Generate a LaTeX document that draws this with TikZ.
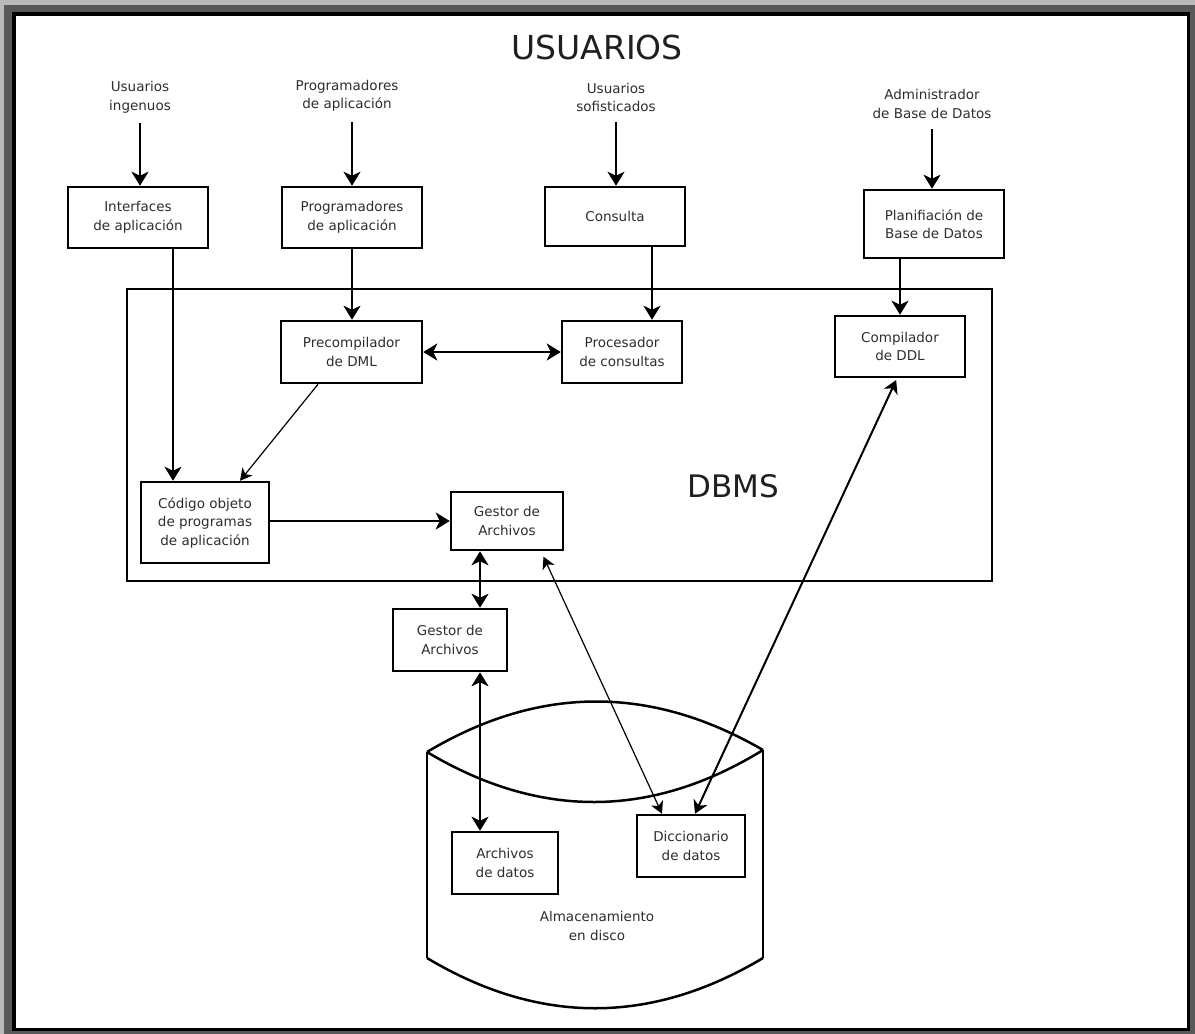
\documentclass[tikz,border=0pt]{standalone}
\usepackage{fontspec}
\setmainfont{DejaVu Sans}
\usetikzlibrary{arrows.meta}
\newcommand\boxtxt{\fontsize{13.5}{18.5}\selectfont}
\begin{document}
\begin{tikzpicture}[x=1pt,y=-1pt,
  box/.style={draw, line width=2.5pt, fill=white, align=center, text=black!82, font=\boxtxt, inner sep=0pt},
  lbl/.style={align=center, text=black!82, font=\boxtxt, inner sep=0pt},
  big/.style={text=black!88, inner sep=0pt},
  arr/.style={line width=2.5pt, -{Stealth[length=14pt,width=17pt,inset=4pt]}},
  darr/.style={line width=2.5pt, {Stealth[length=14pt,width=17pt,inset=4pt]}-{Stealth[length=14pt,width=17pt,inset=4pt]}},
  tarr/.style={line width=1.2pt, -{Stealth[length=12pt,width=13pt,inset=3.5pt]}},
  tdarr/.style={line width=1.2pt, {Stealth[length=12pt,width=13pt,inset=3.5pt]}-{Stealth[length=12pt,width=13pt,inset=3.5pt]}},
  mdarr/.style={line width=2pt, {Stealth[length=13pt,width=15pt,inset=4pt]}-{Stealth[length=13pt,width=15pt,inset=4pt]}},
  outline/.style={line width=2.5pt}
]
\useasboundingbox (0,0) rectangle (1195,1034);
% frame
\fill[gray!55] (0,0) rectangle (1195,1034);
\fill[gray!70!black] (4,5) rectangle (1195,1034);
\draw[line width=3.5pt, fill=white] (14,14) rectangle (1188.5,1029.5);

% titles
\node[big, font=\fontsize{33}{36}\selectfont] (usr) at (597,47) {USUARIOS};

% DBMS enclosure
\draw[outline] (127,289) rectangle (992,581);
\node[big, font=\fontsize{31}{34}\selectfont] (dbms) at (733,486) {DBMS};

% disk storage cylinder
\draw[outline] (427,752) -- (427,958);
\draw[outline] (763,750) -- (763,958);
\draw[outline] (427,752) .. controls (539,685) and (651,685) .. (763,750);
\draw[outline] (427,752) .. controls (539,819) and (651,819) .. (763,750);
\draw[outline] (427,958) .. controls (539,1025) and (651,1025) .. (763,958);
\node[lbl] (alm) at (597,926) {Almacenamiento\\en disco};

% user labels
\node[lbl] (l1) at (140,97.5) {Usuarios\\ingenuos};
\node[lbl] (l2) at (347,96) {Programadores\\de aplicación};
\node[lbl] (l3) at (616,97.5) {Usuarios\\sofisticados};
\node[lbl] (l4) at (932,104) {Administrador\\de Base de Datos};

% boxes
\node[box, minimum width=140pt, minimum height=61pt] (iface) at (138,217.5) {Interfaces\\de aplicación};
\node[box, minimum width=140pt, minimum height=61pt] (prog) at (352,217.5) {Programadores\\de aplicación};
\node[box, minimum width=140pt, minimum height=59pt] (cons) at (615,216.5) {Consulta};
\node[box, minimum width=140pt, minimum height=68pt] (plan) at (934,224) {Planifiación de\\Base de Datos};
\node[box, minimum width=141pt, minimum height=62pt] (prec) at (351.5,352) {Precompilador\\de DML};
\node[box, minimum width=120pt, minimum height=62pt] (proc) at (622,352) {Procesador\\de consultas};
\node[box, minimum width=130pt, minimum height=61pt] (comp) at (900,346.5) {Compilador\\de DDL};
\node[box, minimum width=128pt, minimum height=81pt] (cod) at (205,522.5) {Código objeto\\de programas\\de aplicación};
\node[box, minimum width=112pt, minimum height=58pt] (gest1) at (507,521) {Gestor de\\Archivos};
\node[box, minimum width=114pt, minimum height=62pt] (gest2) at (450,640) {Gestor de\\Archivos};
\node[box, minimum width=106pt, minimum height=62pt] (arch) at (505,863) {Archivos\\de datos};
\node[box, minimum width=108pt, minimum height=62pt] (dicc) at (691,846) {Diccionario\\de datos};

% connectors: users to their tools
\draw[arr, shorten <=10pt] (l1.south) -- (l1.south |- iface.north);
\draw[arr, shorten <=10pt] (prog.north |- l2.south) -- (prog.north);
\draw[arr, shorten <=10pt] (l3.south) -- (l3.south |- cons.north);
\draw[arr, shorten <=10pt] (l4.south) -- (l4.south |- plan.north);

% connectors into the DBMS
\draw[arr] ([xshift=35pt]iface.south) -- ([xshift=35pt]iface.south |- cod.north);
\draw[arr] (prog.south) -- (prog.south |- prec.north);
\draw[arr] ([xshift=37pt]cons.south) -- ([xshift=37pt]cons.south |- proc.north);
\draw[arr] ([xshift=-34pt]plan.south) -- ([xshift=-34pt]plan.south |- comp.north);
\draw[darr] (prec.east) -- (proc.west);
\draw[tarr] ([xshift=-33.5pt]prec.south) -- ([xshift=35pt]cod.north);
\draw[arr] (cod.east |- gest1.west) -- (gest1.west);

% connectors to storage
\draw[darr] ([xshift=30pt]gest2.north) -- ([xshift=30pt]gest2.north |- gest1.south);
\draw[darr] ([xshift=30pt]gest2.south) -- ([xshift=30pt]gest2.south |- arch.north);
\draw[tdarr, shorten <=6pt] ([xshift=34pt]gest1.south) -- ([xshift=-29pt]dicc.north);
\draw[mdarr, shorten <=2pt] ([xshift=-3pt]comp.south) -- ([xshift=4pt]dicc.north);
\end{tikzpicture}
\end{document}
